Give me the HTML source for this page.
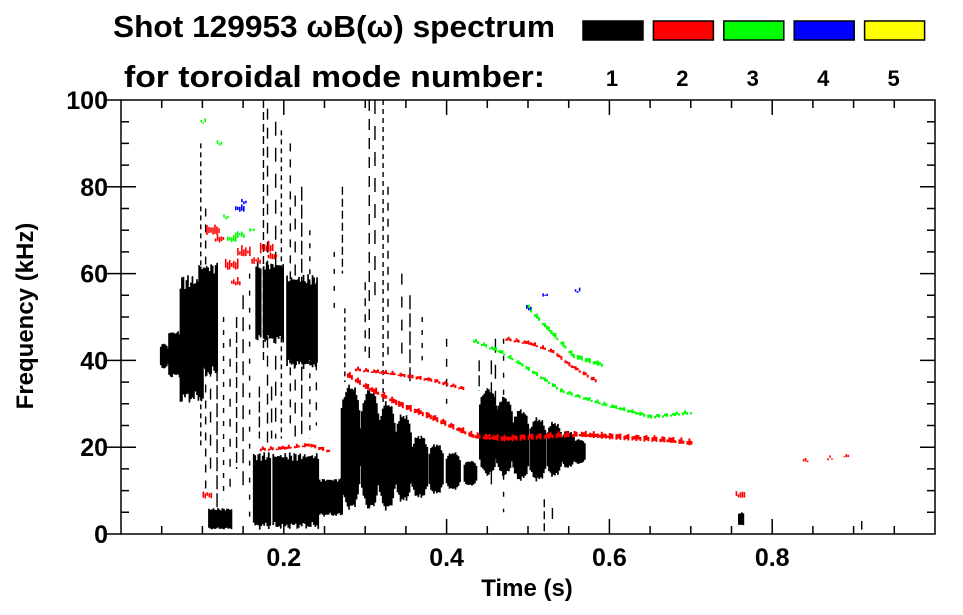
<!DOCTYPE html>
<html><head><meta charset="utf-8">
<style>
html,body{margin:0;padding:0;background:#fff;}
svg{display:block;font-family:"Liberation Sans",sans-serif;font-weight:bold;}
</style></head>
<body>
<svg id="chart" width="963" height="615" viewBox="0 0 963 615">
  <text x="113" y="37" font-size="31" textLength="442" lengthAdjust="spacingAndGlyphs">Shot 129953 ωB(ω) spectrum</text>
  <text x="124" y="87" font-size="31" textLength="421" lengthAdjust="spacingAndGlyphs">for toroidal mode number:</text>
  <g id="legend"></g>
  <g id="marks"></g>
  <g id="axes"></g>
  <text x="527" y="596" font-size="24" text-anchor="middle">Time (s)</text>
  <text transform="translate(33,316) rotate(-90)" font-size="24" text-anchor="middle">Frequency (kHz)</text>
</svg>
<script>
// ---- data ----
const modeNumbers = [1, 2, 3, 4, 5];
const modeColors = ['#000000', '#ff0000', '#00ff00', '#0000ff', '#ffff00'];
const xTicks = [0.2, 0.4, 0.6, 0.8];
const xTickLabels = ['0.2', '0.4', '0.6', '0.8'];
const yTicks = [0, 20, 40, 60, 80, 100];
const yTickLabels = ['0', '20', '40', '60', '80', '100'];
// mode 1 dense regions: [tStart, tEnd, fLow, fHigh]
const mode1Blocks = [
  [0.058, 0.080, 36, 47], [0.072, 0.100, 30, 60], [0.095, 0.118, 36, 63],
  [0.165, 0.200, 44, 63], [0.203, 0.240, 38, 60],
  [0.162, 0.243, 1, 19], [0.243, 0.272, 4, 13],
  [0.107, 0.135, 1, 6], [0.758, 0.764, 2, 5]
];
// mode 1 bursts: [tCenter, fLow, fHigh, halfWidth]
const mode1Bursts = [
  [0.281, 5, 35, 0.013], [0.305, 5, 34, 0.012], [0.326, 5, 31, 0.011], [0.346, 7, 28, 0.011],
  [0.366, 8, 23, 0.011], [0.386, 9, 21, 0.010], [0.407, 10, 19, 0.010], [0.428, 11, 17, 0.009],
  [0.450, 13, 34, 0.012], [0.470, 13, 32, 0.011], [0.490, 12, 29, 0.011], [0.511, 12, 27, 0.011],
  [0.531, 13, 26, 0.010], [0.548, 15, 24, 0.009], [0.562, 16, 22, 0.008],
  [0.052, 38, 44, 0.006]
];
// mode 1 vertical streaks: [t, fLow, fHigh]
const mode1Streaks = [
  [0.098, 20, 90], [0.104, 10, 75], [0.110, 15, 60], [0.118, 5, 55], [0.126, 8, 50], [0.134, 10, 45],
  [0.142, 15, 50], [0.150, 10, 55], [0.158, 3, 60], [0.175, 40, 100], [0.180, 20, 98], [0.190, 22, 95],
  [0.197, 22, 93], [0.208, 25, 90], [0.214, 22, 78], [0.222, 23, 80], [0.232, 22, 70], [0.240, 25, 58],
  [0.170, 22, 34], [0.185, 22, 34], [0.262, 50, 65], [0.272, 60, 80], [0.305, 40, 100], [0.312, 55, 100],
  [0.322, 30, 100], [0.328, 40, 80], [0.345, 40, 60], [0.355, 35, 55], [0.370, 40, 50], [0.400, 30, 45],
  [0.440, 33, 40], [0.455, 10, 40], [0.470, 5, 45], [0.520, 0, 8], [0.530, 2, 6], [0.460, 22, 45],
  [0.275, 35, 52], [0.300, 42, 58], [0.910, 1, 3]
];
// mode 2 tracks: [t, f]
const mode2TrackA = [[0.168, 19.5], [0.200, 19.8], [0.230, 20.5], [0.257, 19]];
const mode2TrackB = [[0.275, 37], [0.300, 34], [0.340, 30], [0.380, 27], [0.432, 22.6], [0.470, 22], [0.560, 23], [0.600, 22.5], [0.670, 21.7], [0.700, 21]];
const mode2TrackC = [[0.285, 38], [0.330, 37], [0.380, 35.5], [0.420, 33.5]];
const mode2TrackD = [[0.470, 45], [0.500, 44], [0.530, 42], [0.550, 39], [0.585, 35]];
const mode2Blobs = [[0.112, 70, 3], [0.120, 68, 2], [0.135, 62, 3], [0.140, 58, 2], [0.150, 65, 3], [0.165, 63, 2], [0.178, 66, 3], [0.185, 64, 2], [0.105, 9, 2], [0.760, 9, 2], [0.840, 17, 1], [0.870, 17.5, 1], [0.890, 18, 1]];
// mode 3 tracks
const mode3TrackA = [[0.495, 53], [0.525, 47], [0.555, 41], [0.590, 39]];
const mode3TrackB = [[0.430, 44.7], [0.465, 42], [0.500, 38], [0.540, 33], [0.590, 30], [0.650, 27], [0.700, 28]];
const mode3Blobs = [[0.135, 68, 2], [0.128, 73, 1], [0.160, 70, 1], [0.100, 95, 1], [0.120, 90, 1], [0.145, 69, 2]];
// mode 4
const mode4Blobs = [[0.145, 75, 2], [0.150, 76.5, 1], [0.520, 55, 1], [0.560, 56, 1], [0.500, 52, 1]];

// ---- scales ----
const X0 = 121, X1 = 935, Y0 = 534, Y1 = 100;
function xs(t) { return X0 + t * (X1 - X0); }
function ys(f) { return Y0 - f / 100 * (Y0 - Y1); }
function jag(i, k) { return 0.5 + 0.5 * Math.sin(i * 2.3 + k * 1.7) * Math.cos(i * 0.9 + k); }

const NS = 'http://www.w3.org/2000/svg';
const marks = document.getElementById('marks');
function mk(tag, attrs, parent) {
  const e = document.createElementNS(NS, tag);
  for (const a in attrs) e.setAttribute(a, attrs[a]);
  parent.appendChild(e);
  return e;
}

// blocks
mode1Blocks.forEach((b, k) => {
  let d = '';
  const xa = xs(b[0]), xb = xs(b[1]), yt = ys(b[3]), yb = ys(b[2]);
  const h = yb - yt;
  let i = 0;
  for (let x = xa; x < xb; x += 1.5, i++) {
    if (jag(i, k) > 0.96) continue;
    const top = yt + h * 0.12 * jag(i * 1.3, k + 2);
    const bot = yb - h * 0.10 * jag(i * 0.7, k + 5);
    d += 'M' + x.toFixed(1) + ' ' + top.toFixed(1) + 'V' + bot.toFixed(1) + 'h1.7V' + top.toFixed(1) + 'z';
  }
  const p = mk('path', { d: d, fill: '#000' }, marks);
  
  
});
// bursts
mode1Bursts.forEach((b, k) => {
  let d = '';
  const xc = xs(b[0]), w = b[3] * (X1 - X0);
  const yc = (ys(b[1]) + ys(b[2])) / 2, hh = (ys(b[1]) - ys(b[2])) / 2;
  let i = 0;
  for (let x = xc - w; x < xc + w; x += 1.5, i++) {
    const u = (x - xc) / w;
    const s = Math.pow(Math.max(0, 1 - u * u), 0.35) * (0.85 + 0.15 * jag(i, k));
    const top = yc - hh * s, bot = yc + hh * s;
    d += 'M' + x.toFixed(1) + ' ' + top.toFixed(1) + 'V' + bot.toFixed(1) + 'h1.7V' + top.toFixed(1) + 'z';
  }
  const p = mk('path', { d: d, fill: '#000' }, marks);
  
  
});
// streaks
mode1Streaks.forEach((s, k) => {
  const l = mk('line', { x1: xs(s[0]), x2: xs(s[0]), y1: ys(s[2]), y2: ys(s[1]), stroke: '#000', 'stroke-width': 1.4, 'stroke-dasharray': (5 + (k % 4) * 3) + ' ' + (4 + (k % 3) * 4) }, marks);
  
  
});
// tracks
function drawTrack(pts, color, name, thick) {
  let d = '';
  let i = 0;
  for (let s = 0; s < pts.length - 1; s++) {
    const xa = xs(pts[s][0]), xb = xs(pts[s + 1][0]);
    const ya = ys(pts[s][1]), yb = ys(pts[s + 1][1]);
    for (let x = xa; x < xb; x += 2, i++) {
      if (jag(i, 3) > 0.75) continue;
      const y = ya + (yb - ya) * (x - xa) / (xb - xa) + 2 * (jag(i, 11) - 0.5);
      const h = thick * (0.4 + jag(i, 7));
      d += 'M' + x.toFixed(1) + ' ' + (y - h / 2).toFixed(1) + 'h2v' + h.toFixed(1) + 'h-2z';
    }
  }
  const p = mk('path', { d: d, fill: color }, marks);
  
  
}
function drawBlobs(arr, color, name) {
  arr.forEach((b, k) => {
    let d = '';
    const xc = xs(b[0]), yc = ys(b[1]), r = b[2];
    for (let j = -r; j <= r; j++) {
      const x = xc + j * 2;
      const h = 3 * r * (0.3 + jag(j + k, k));
      const off = 3 * (jag(j * 3 + k, k + 1) - 0.5);
      d += 'M' + x.toFixed(1) + ' ' + (yc - h / 2 + off).toFixed(1) + 'h1.6v' + h.toFixed(1) + 'h-1.6z';
    }
    const p = mk('path', { d: d, fill: color }, marks);
    
    
  });
}
drawTrack(mode2TrackA, '#ff0000', 'mode2-track', 3);
drawTrack(mode2TrackB, '#ff0000', 'mode2-track', 5);
drawTrack(mode2TrackC, '#ff0000', 'mode2-track', 3);
drawTrack(mode2TrackD, '#ff0000', 'mode2-track', 3);
drawBlobs(mode2Blobs, '#ff0000', 'mode2-blob');
drawTrack(mode3TrackA, '#00ff00', 'mode3-track', 4);
drawTrack(mode3TrackB, '#00ff00', 'mode3-track', 3);
drawBlobs(mode3Blobs, '#00ff00', 'mode3-blob');
drawBlobs(mode4Blobs, '#0000ff', 'mode4-blob');

// legend
const legend = document.getElementById('legend');
modeNumbers.forEach((m, i) => {
  const x = 583 + i * 70.4;
  const r = mk('rect', { x: x, y: 21, width: 60, height: 19, fill: modeColors[i], stroke: '#000', 'stroke-width': 1.5 }, legend);
  
  
  const t = mk('text', { x: x + 29, y: 86, 'font-size': 22, 'text-anchor': 'middle' }, legend);
  t.textContent = m;
  
  
});

// axes
const axes = document.getElementById('axes');
const frame = mk('rect', { x: X0, y: Y1, width: X1 - X0, height: Y0 - Y1, fill: 'none', stroke: '#000', 'stroke-width': 1.5 }, axes);


let td = '';
for (let k = 1; k < 20; k++) {
  const t = k * 0.05, x = xs(t), major = (k % 4 === 0);
  const len = major ? 15 : 8;
  td += 'M' + x + ' ' + Y0 + 'v-' + len + 'M' + x + ' ' + Y1 + 'v' + len;
}
for (let k = 1; k < 20; k++) {
  const f = k * 5, y = ys(f), major = (k % 4 === 0);
  const len = major ? 15 : 8;
  td += 'M' + X0 + ' ' + y + 'h' + len + 'M' + X1 + ' ' + y + 'h-' + len;
}
const ticks = mk('path', { d: td, stroke: '#000', 'stroke-width': 1.5, fill: 'none' }, axes);


yTicks.forEach((v, i) => {
  const l = mk('line', { x1: X0 - 15, x2: X0, y1: ys(v), y2: ys(v), stroke: '#000', 'stroke-width': 1.5 }, axes);
  
  
  const t = mk('text', { x: 108, y: ys(v) + 9, 'font-size': 25, 'text-anchor': 'end' }, axes);
  t.textContent = yTickLabels[i];
  
  
});
xTicks.forEach((v, i) => {
  const t = mk('text', { x: xs(v), y: 566, 'font-size': 25, 'text-anchor': 'middle' }, axes);
  t.textContent = xTickLabels[i];
  
  
});
</script>
</body></html>
